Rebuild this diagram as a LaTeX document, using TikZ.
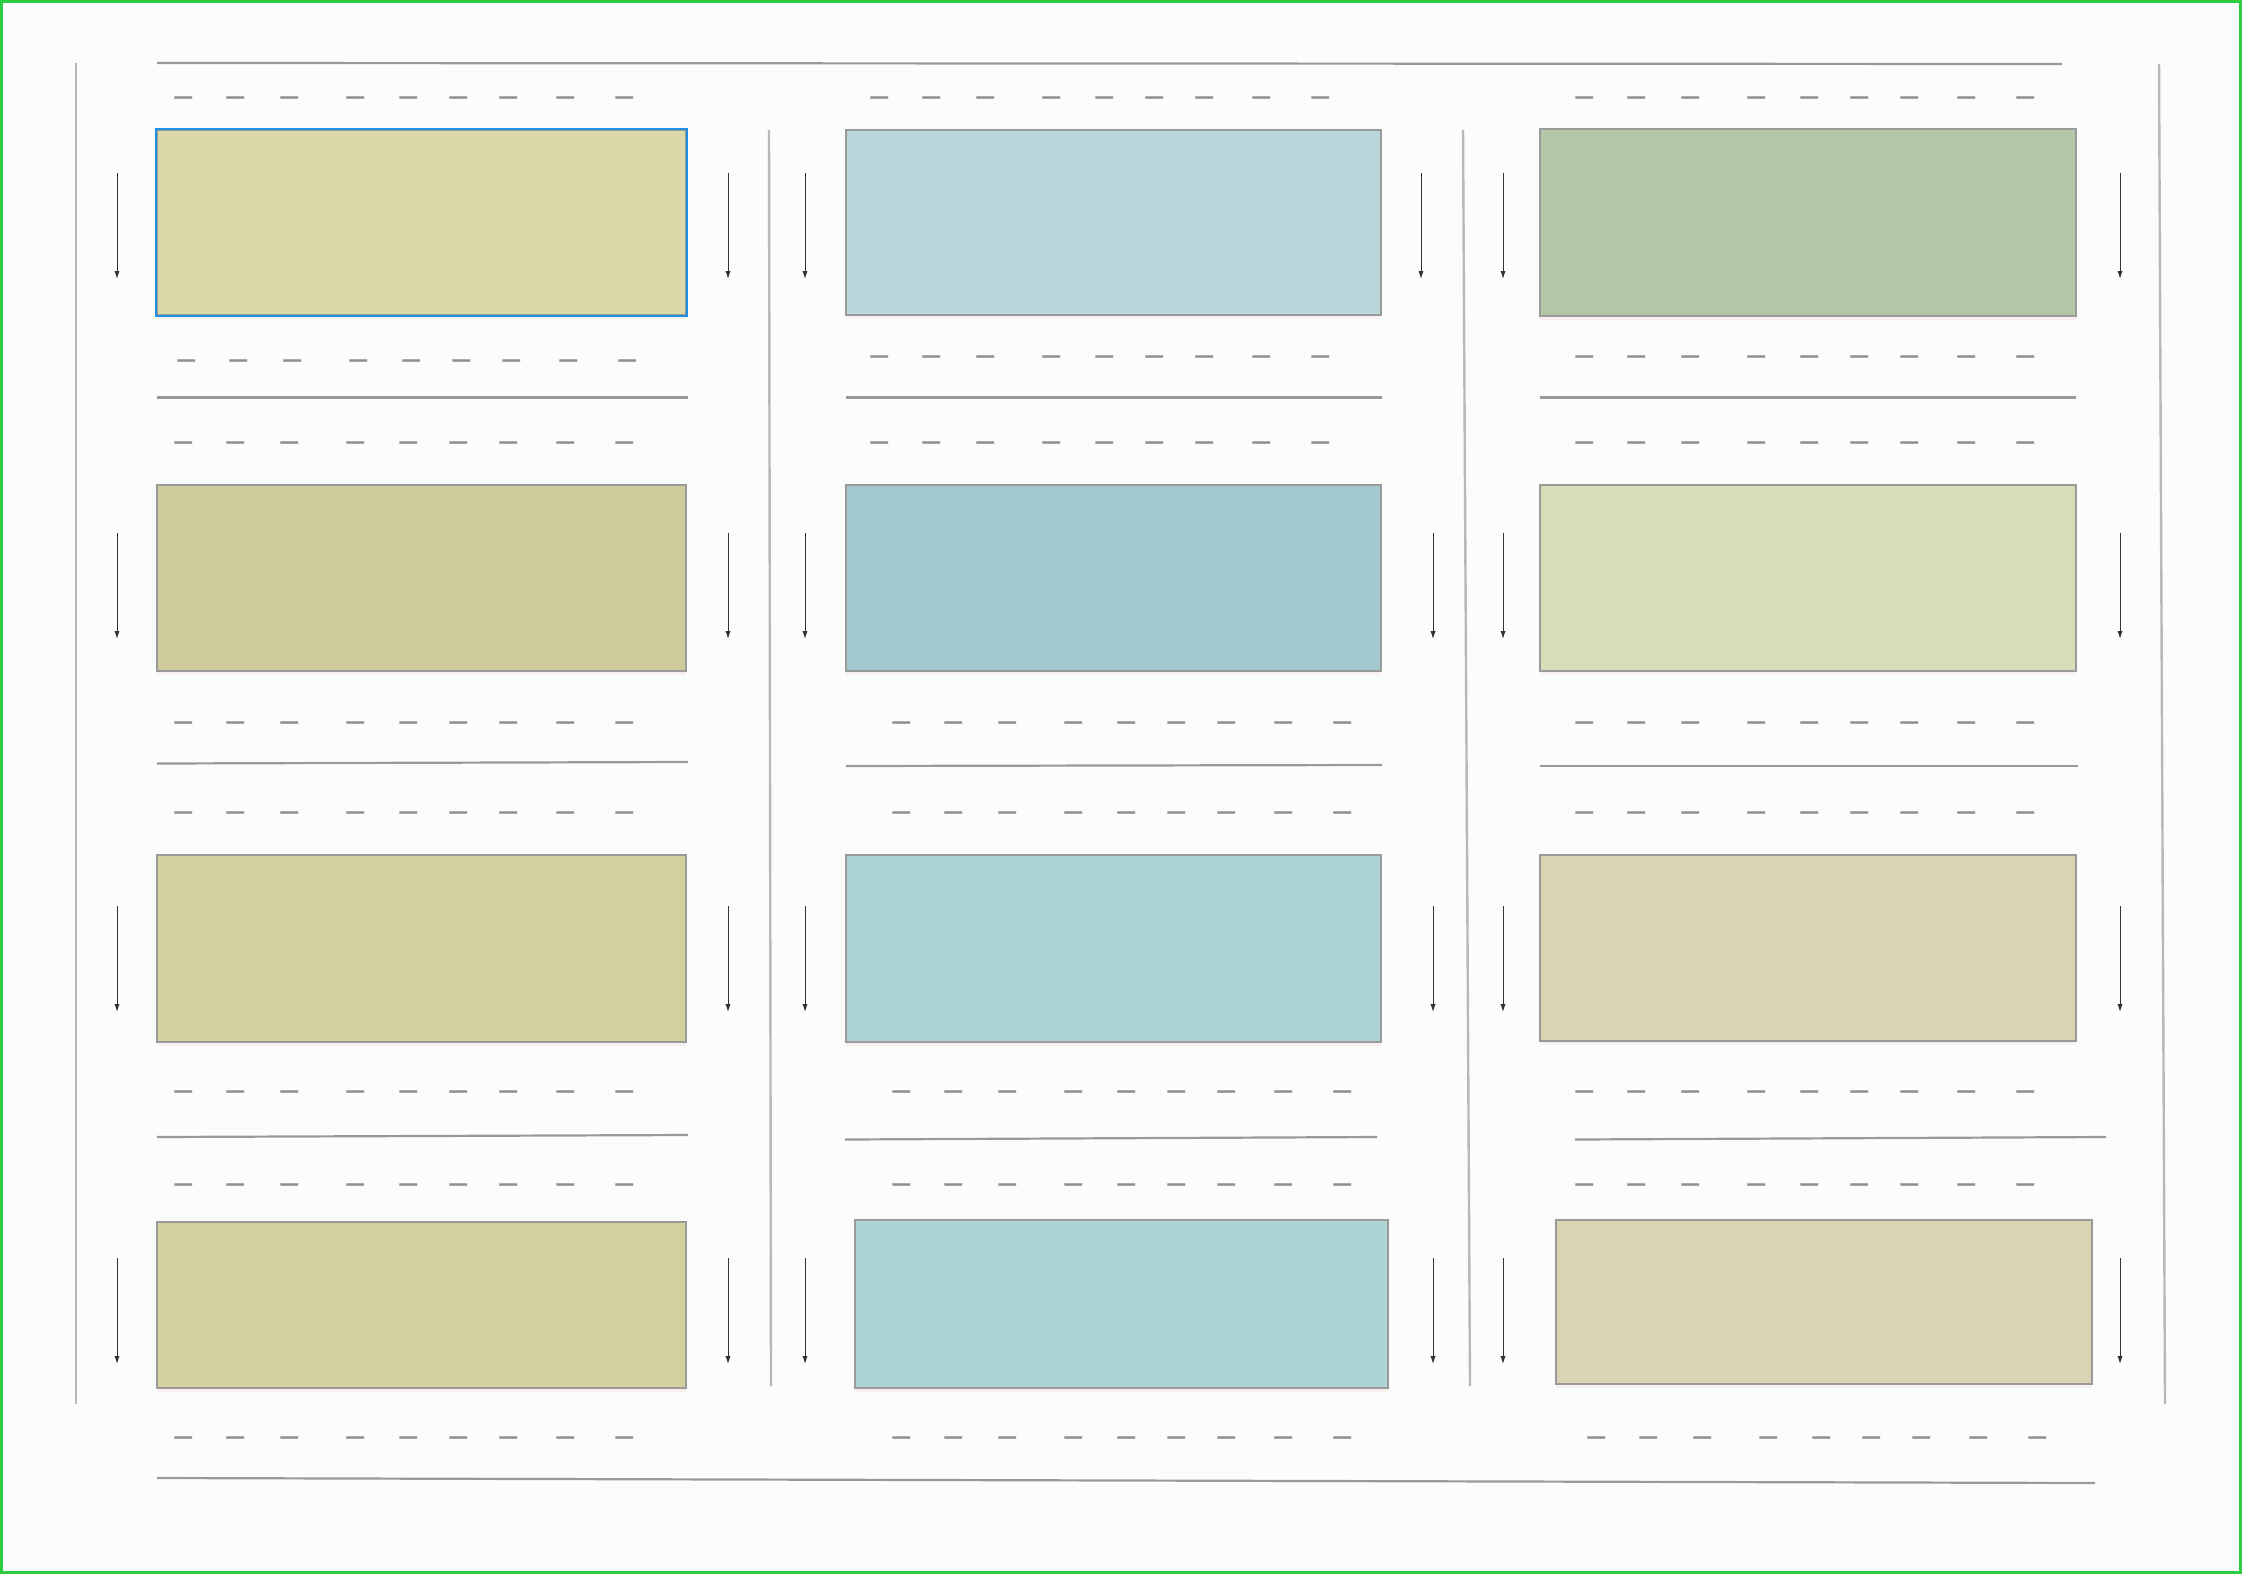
\documentclass[tikz,border=0pt]{standalone}
\usepackage{fontspec}
\newfontfamily\dashfont{DejaVu Sans}
\usetikzlibrary{arrows.meta,shadows}
\definecolor{bgc}{HTML}{FBFCFC}
\definecolor{framec}{HTML}{2ECC40}
\definecolor{linec}{HTML}{999999}
\definecolor{dashc}{HTML}{8F8F8F}
\definecolor{vlinec}{HTML}{B8B8B8}
\definecolor{bordc}{HTML}{9A9A9A}
\definecolor{selc}{HTML}{1E90E0}
\definecolor{cA}{HTML}{DBD9A8}
\definecolor{cB}{HTML}{CFCB9C}
\definecolor{cC}{HTML}{D4D19E}
\definecolor{cD}{HTML}{BAD8DB}
\definecolor{cE}{HTML}{A3C9CE}
\definecolor{cF}{HTML}{ADD3D7}
\definecolor{cG}{HTML}{B3C6A7}
\definecolor{cH}{HTML}{D6DDB8}
\definecolor{cI}{HTML}{D9D4B4}
\tikzset{
  boxst/.style={draw=bordc, line width=1pt, inner sep=0pt, rectangle,
    drop shadow={shadow xshift=0pt, shadow yshift=-2pt, opacity=0.06, fill=red!60!gray}},
  dashtxt/.style={inner sep=0pt, text=dashc, font=\dashfont\bfseries\fontsize{10}{12}\selectfont},
  flow/.style={draw=black!80, line width=0.5pt, -{Latex[length=4pt,width=2.6pt]}},
  rule/.style={draw=linec, line width=1.1pt},
  vrule/.style={draw=vlinec, line width=1.2pt}
}
\newcommand\boxnode[6]{\node[boxst, fill=#6, minimum width={(#4-#2)*0.5pt}, minimum height={(#5-#3)*0.5pt}] (#1) at ({(#2+#4)/2},{(#3+#5)/2}) {};}
\newcommand\dashrow[3]{\node[dashtxt, anchor=base west] (#1) at (#2,{#3+6}) {—\hspace{16pt}—\hspace{17pt}—\hspace{23pt}—\hspace{16.5pt}—\hspace{15pt}—\hspace{15pt}—\hspace{18.5pt}—\hspace{19.5pt}—};}
\newcommand\varr[4]{\coordinate (#1a) at (#2,#3); \coordinate (#1b) at (#2,#4); \draw[flow] (#1a) -- (#1b);}
\newcommand\seg[6]{\coordinate (#1a) at (#2,#3); \coordinate (#1b) at (#4,#5); \draw[#6] (#1a) -- (#1b);}
\begin{document}
\begin{tikzpicture}[x=0.5pt,y=-0.5pt]
\useasboundingbox (0,0) rectangle (2242,1574);
\fill[bgc] (0,0) rectangle (2242,1574);
\draw[framec, line width=1.2pt] (1.5,1.5) rectangle (2240.5,1572.5);

% outer frame lines
\seg{top}{157}{63}{2062}{64}{rule}
\seg{bot}{157}{1478}{2095}{1483}{rule}
\seg{lft}{76}{63}{76}{1404}{vrule}
\seg{rgt}{2159}{64}{2165}{1404}{vrule}
\seg{divA}{769}{130}{771}{1386}{vrule}
\seg{divB}{1463}{130}{1470}{1386}{vrule}

% separators
\seg{s11}{157}{397.5}{688}{397.5}{rule}
\seg{s12}{157}{763.5}{688}{762}{rule}
\seg{s13}{157}{1137}{688}{1135}{rule}
\seg{s21}{846}{397.5}{1382}{397.5}{rule}
\seg{s22}{846}{766}{1382}{765}{rule}
\seg{s23}{845}{1139.5}{1377}{1137}{rule}
\seg{s31}{1540}{397.5}{2076}{397.5}{rule}
\seg{s32}{1540}{766}{2078}{766}{rule}
\seg{s33}{1575}{1139.5}{2106}{1137}{rule}

% boxes
\boxnode{b11}{157}{130}{686}{315}{cA}
\draw[selc, line width=1.2pt] (b11.north west) rectangle (b11.south east);
\boxnode{b12}{157}{485}{686}{671}{cB}
\boxnode{b13}{157}{855}{686}{1042}{cC}
\boxnode{b14}{157}{1222}{686}{1388}{cC}
\boxnode{b21}{846}{130}{1381}{315}{cD}
\boxnode{b22}{846}{485}{1381}{671}{cE}
\boxnode{b23}{846}{855}{1381}{1042}{cF}
\boxnode{b24}{855}{1220}{1388}{1388}{cF}
\boxnode{b31}{1540}{129}{2076}{316}{cG}
\boxnode{b32}{1540}{485}{2076}{671}{cH}
\boxnode{b33}{1540}{855}{2076}{1041}{cI}
\boxnode{b34}{1556}{1220}{2092}{1384}{cI}

% dash rows
\dashrow{d11}{173}{97}
\dashrow{d12}{176}{360}
\dashrow{d13}{173}{442}
\dashrow{d14}{173}{722}
\dashrow{d15}{173}{812}
\dashrow{d16}{173}{1091}
\dashrow{d17}{173}{1184}
\dashrow{d18}{173}{1437}
\dashrow{d21}{869}{97}
\dashrow{d22}{869}{356}
\dashrow{d23}{869}{442}
\dashrow{d24}{891}{722}
\dashrow{d25}{891}{812}
\dashrow{d26}{891}{1091}
\dashrow{d27}{891}{1184}
\dashrow{d28}{891}{1437}
\dashrow{d31}{1574}{97}
\dashrow{d32}{1574}{356}
\dashrow{d33}{1574}{442}
\dashrow{d34}{1574}{722}
\dashrow{d35}{1574}{812}
\dashrow{d36}{1574}{1091}
\dashrow{d37}{1574}{1184}
\dashrow{d38}{1586}{1437}

% arrows
\varr{a11l}{117}{173}{279}
\varr{a11r}{728}{173}{279}
\varr{a12l}{117}{533}{639}
\varr{a12r}{728}{533}{639}
\varr{a13l}{117}{906}{1012}
\varr{a13r}{728}{906}{1012}
\varr{a14l}{117}{1258}{1364}
\varr{a14r}{728}{1258}{1364}
\varr{a21l}{805}{173}{279}
\varr{a21r}{1421}{173}{279}
\varr{a22l}{805}{533}{639}
\varr{a22r}{1433}{533}{639}
\varr{a23l}{805}{906}{1012}
\varr{a23r}{1433}{906}{1012}
\varr{a24l}{805}{1258}{1364}
\varr{a24r}{1433}{1258}{1364}
\varr{a31l}{1503}{173}{279}
\varr{a31r}{2120}{173}{279}
\varr{a32l}{1503}{533}{639}
\varr{a32r}{2120}{533}{639}
\varr{a33l}{1503}{906}{1012}
\varr{a33r}{2120}{906}{1012}
\varr{a34l}{1503}{1258}{1364}
\varr{a34r}{2120}{1258}{1364}
\end{tikzpicture}
\end{document}
